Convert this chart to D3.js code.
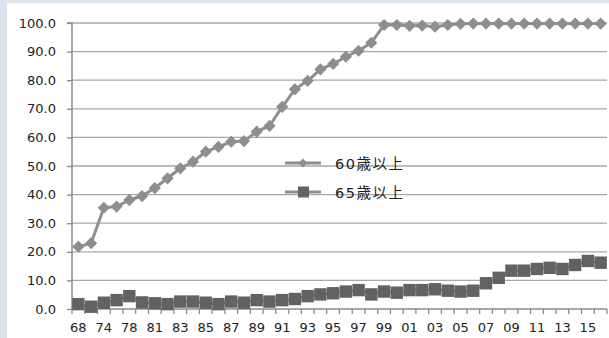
<!DOCTYPE html>
<html>
<head>
<meta charset="utf-8">
<script src="https://cdn.jsdelivr.net/npm/d3@7"></script>
<style>
  html, body { margin: 0; padding: 0; background: #dde2ef; }
  svg { display: block; }
</style>
</head>
<body>
<svg id="chart" width="609" height="338"></svg>
<script>
// Survey years (two-digit), one entry per point
const years = ["68","71","74","76","78","80","81","82","83","84","85","86","87","88","89","90",
  "91","92","93","94","95","96","97","98","99","00","01","02","03","04","05","06","07","08",
  "09","10","11","12","13","14","15","16"];

// Share (%) by retirement-age rule
const over60 = [21.8,23.0,35.4,35.8,38.1,39.5,42.3,45.7,49.2,51.5,55.0,56.7,58.5,58.7,62.0,64.0,
  70.7,76.8,79.8,83.8,85.7,88.2,90.3,93.1,99.3,99.3,99.0,99.1,98.7,99.3,99.7,99.8,99.8,99.8,
  99.8,99.8,99.8,99.8,99.8,99.8,99.8,99.8];
const over65 = [1.7,0.8,2.2,3.1,4.5,2.3,2.0,1.7,2.6,2.6,2.2,1.7,2.6,2.2,3.1,2.6,
  3.1,3.5,4.5,5.1,5.5,6.1,6.6,5.1,6.1,5.7,6.6,6.6,6.9,6.4,6.1,6.4,9.0,10.9,
  13.4,13.4,14.0,14.4,14.0,15.4,16.8,16.2];

const yTicks = [0,10,20,30,40,50,60,70,80,90,100];
const seriesNames = ["60歳以上", "65歳以上"];

const svg = d3.select("#chart");
const font = "'DejaVu Sans', Verdana, sans-serif";

// white chart area
svg.append("rect").attr("x", 7).attr("y", 3).attr("width", 602).attr("height", 335).attr("fill", "#ffffff");

const plotL = 72, plotR = 607, plotT = 23, plotB = 309;

const x = d3.scaleBand().domain(d3.range(years.length)).range([plotL, plotR]).paddingInner(0).paddingOuter(0);
const y = d3.scaleLinear().domain([0, 100]).range([plotB, plotT]);

// horizontal gridlines
svg.append("g").selectAll("line").data(yTicks.filter(d => d > 0)).join("line")
  .attr("x1", plotL).attr("x2", plotR)
  .attr("y1", d => y(d)).attr("y2", d => y(d))
  .attr("stroke", "#a8a8a8").attr("stroke-width", 1.3);

// y axis
const yAxis = svg.append("g").attr("transform", `translate(${plotL},0)`)
  .call(d3.axisLeft(y).tickValues(yTicks).tickFormat(d3.format(".1f")).tickSize(5).tickPadding(11));
yAxis.select(".domain").attr("stroke", "#8a8a8a").attr("stroke-width", 1.5).attr("d", `M-5,${plotT}H0V${plotB}`);
yAxis.selectAll(".tick line").attr("stroke", "#8a8a8a").attr("stroke-width", 1.3);
yAxis.selectAll(".tick text").attr("fill", "#222").style("font-family", font).style("font-size", "13px");

// x axis: ticks on category boundaries, labels on every other category
const xAxisG = svg.append("g").attr("transform", `translate(0,${plotB})`);
xAxisG.append("line").attr("x1", plotL).attr("x2", plotR).attr("y1", 0).attr("y2", 0)
  .attr("stroke", "#8a8a8a").attr("stroke-width", 1.5);
xAxisG.selectAll("line.tk").data(d3.range(years.length + 1)).join("line").attr("class", "tk")
  .attr("x1", i => plotL + i * x.step()).attr("x2", i => plotL + i * x.step())
  .attr("y1", 0).attr("y2", 5).attr("stroke", "#8a8a8a").attr("stroke-width", 1.3);
xAxisG.selectAll("text").data(d3.range(0, years.length, 2)).join("text")
  .attr("x", i => x(i) + x.bandwidth() / 2).attr("y", 23)
  .attr("text-anchor", "middle").attr("fill", "#222")
  .style("font-family", font).style("font-size", "13px")
  .text(i => years[i]);

const cx = i => x(i) + x.bandwidth() / 2;
const line = d3.line().x((d, i) => cx(i)).y(d => y(d));

const c60 = "#8e8e8e", c65 = "#626262";

// 60歳以上 series
svg.append("path").datum(over60).attr("d", line).attr("fill", "none")
  .attr("stroke", c60).attr("stroke-width", 3).attr("stroke-linejoin", "round");
const diamond = d3.symbol().type(d3.symbolDiamond2).size(95);
svg.append("g").selectAll("path").data(over60).join("path")
  .attr("transform", (d, i) => `translate(${cx(i)},${y(d)})`)
  .attr("d", diamond).attr("fill", c60);

// 65歳以上 series
svg.append("path").datum(over65).attr("d", line).attr("fill", "none")
  .attr("stroke", c60).attr("stroke-width", 3);
svg.append("g").selectAll("rect").data(over65).join("rect")
  .attr("x", (d, i) => cx(i) - 6.2).attr("y", d => y(d) - 6.2)
  .attr("width", 12.4).attr("height", 12.4).attr("fill", c65);

// legend
const lg = svg.append("g").attr("transform", "translate(285,0)");
const legendY = [163, 192];
seriesNames.forEach((name, k) => {
  const g = lg.append("g").attr("transform", `translate(0,${legendY[k]})`);
  g.append("line").attr("x1", 0).attr("x2", 36).attr("stroke", c60).attr("stroke-width", 3);
  if (k === 0) {
    g.append("path").attr("transform", "translate(18,0)")
      .attr("d", d3.symbol().type(d3.symbolDiamond2).size(50)).attr("fill", c60);
  } else {
    g.append("rect").attr("x", 13).attr("y", -5.5).attr("width", 11).attr("height", 11).attr("fill", c65);
  }
  g.append("text").attr("x", 50).attr("y", 5.5)
    .attr("fill", "#222")
    .style("font-family", "'DejaVu Sans', 'Noto Sans CJK JP', sans-serif")
    .style("font-size", "14.5px").style("letter-spacing", "1.5px")
    .text(name);
});
</script>
</body>
</html>
